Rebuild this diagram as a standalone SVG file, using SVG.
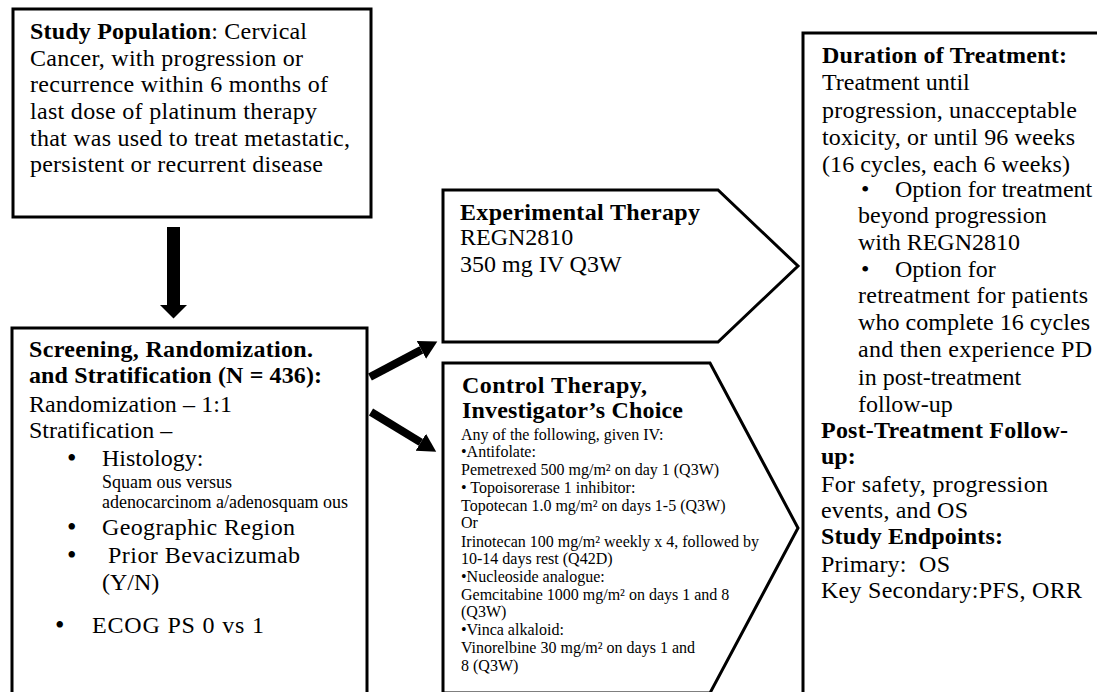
<svg xmlns="http://www.w3.org/2000/svg" width="1097" height="692" viewBox="0 0 1097 692">
<style>
.t{font-family:"Liberation Serif","Times New Roman",serif;font-size:24px;fill:#000}
.b{font-weight:bold}
.s{font-size:16px}
.m{font-size:18px}
.bul{font-size:27px}
.box{fill:#fff;stroke:#000;stroke-width:3;stroke-linejoin:miter}
.shaft{stroke:#000;fill:none}
</style>
<defs>
<marker id="headBig" markerUnits="userSpaceOnUse" markerWidth="14" markerHeight="28" refX="0" refY="13.5" orient="auto" viewBox="0 0 14 28">
<path d="M0,0 L13.5,13.5 L0,27 Z" fill="#000"/>
</marker>
<marker id="headDiag" markerUnits="userSpaceOnUse" markerWidth="19" markerHeight="22" refX="0" refY="10" orient="auto" viewBox="0 0 19 22">
<path d="M0,0 L18,10 L0,20 Z" fill="#000"/>
</marker>
</defs>
<rect width="1097" height="692" fill="#fff"/>

<g id="connectors">
<line class="shaft" x1="173.5" y1="227" x2="173.5" y2="305" stroke-width="13" marker-end="url(#headBig)"/>
<line class="shaft" x1="370" y1="377" x2="421.4" y2="349.9" stroke-width="8" marker-end="url(#headDiag)"/>
<line class="shaft" x1="371" y1="412" x2="420.8" y2="442.3" stroke-width="8" marker-end="url(#headDiag)"/>
</g>

<g id="study-population">
<rect class="box" x="13" y="9" width="358" height="208"/>
<text class="t" x="30" y="39" textLength="277"><tspan class="b">Study Population</tspan>: Cervical</text>
<text class="t" x="30" y="66" textLength="273">Cancer, with progression or</text>
<text class="t" x="30" y="92" textLength="298">recurrence within 6 months of</text>
<text class="t" x="30" y="119" textLength="287">last dose of platinum therapy</text>
<text class="t" x="30" y="146" textLength="320">that was used to treat metastatic,</text>
<text class="t" x="30" y="172" textLength="293">persistent or recurrent disease</text>
</g>

<g id="screening">
<rect class="box" x="12" y="328" width="355" height="400"/>
<text class="t b" x="29" y="357" textLength="284">Screening, Randomization.</text>
<text class="t b" x="29" y="383" textLength="293">and Stratification (N = 436):</text>
<text class="t" x="29" y="412" textLength="203">Randomization – 1:1</text>
<text class="t" x="29" y="438">Stratification –</text>
<text class="t bul" x="67" y="467">•</text>
<text class="t" x="102" y="466">Histology:</text>
<text class="t m" x="102" y="488" textLength="130">Squam ous versus</text>
<text class="t m" x="102" y="508" textLength="246">adenocarcinom a/adenosquam ous</text>
<text class="t bul" x="67" y="536">•</text>
<text class="t" x="102" y="535" textLength="193">Geographic Region</text>
<text class="t bul" x="67" y="564">•</text>
<text class="t" x="108" y="563" textLength="192">Prior Bevacizumab</text>
<text class="t" x="102" y="590">(Y/N)</text>
<text class="t bul" x="55" y="634">•</text>
<text class="t" x="92" y="633" textLength="172">ECOG PS 0 vs 1</text>
</g>

<g id="experimental">
<path class="box" d="M443,190 L718,190 L798,266 L718,342 L443,342 Z"/>
<text class="t b" x="460" y="220" textLength="240">Experimental Therapy</text>
<text class="t" x="460" y="245">REGN2810</text>
<text class="t" x="460" y="272">350 mg IV Q3W</text>
</g>

<g id="control">
<path class="box" d="M443,363 L710,363 L798,528 L710,693 L443,693 Z"/>
<text class="t b" x="462" y="393" textLength="185">Control Therapy,</text>
<text class="t b" x="462" y="418" textLength="221">Investigator’s Choice</text>
<text class="t s" x="461" y="440">Any of the following, given IV:</text>
<text class="t s" x="461" y="457">•Antifolate:</text>
<text class="t s" x="461" y="475">Pemetrexed 500 mg/m² on day 1 (Q3W)</text>
<text class="t s" x="461" y="493">• Topoisorerase 1 inhibitor:</text>
<text class="t s" x="461" y="511">Topotecan 1.0 mg/m² on days 1-5 (Q3W)</text>
<text class="t s" x="461" y="528">Or</text>
<text class="t s" x="461" y="547">Irinotecan 100 mg/m² weekly x 4, followed by</text>
<text class="t s" x="461" y="564">10-14 days rest (Q42D)</text>
<text class="t s" x="461" y="582">•Nucleoside analogue:</text>
<text class="t s" x="461" y="600">Gemcitabine 1000 mg/m² on days 1 and 8</text>
<text class="t s" x="461" y="617">(Q3W)</text>
<text class="t s" x="461" y="635">•Vinca alkaloid:</text>
<text class="t s" x="461" y="653">Vinorelbine 30 mg/m² on days 1 and</text>
<text class="t s" x="461" y="671">8 (Q3W)</text>
</g>

<g id="duration">
<rect class="box" x="803" y="33" width="310" height="680"/>
<text class="t b" x="822" y="63" textLength="245">Duration of Treatment:</text>
<text class="t" x="822" y="90">Treatment until</text>
<text class="t" x="822" y="118" textLength="255">progression, unacceptable</text>
<text class="t" x="822" y="145" textLength="253">toxicity, or until 96 weeks</text>
<text class="t" x="822" y="172" textLength="248">(16 cycles, each 6 weeks)</text>
<text class="t" x="861" y="197">•</text>
<text class="t" x="895" y="197">Option for treatment</text>
<text class="t" x="858" y="223">beyond progression</text>
<text class="t" x="858" y="250">with REGN2810</text>
<text class="t" x="861" y="277">•</text>
<text class="t" x="895" y="277">Option for</text>
<text class="t" x="858" y="303" textLength="230">retreatment for patients</text>
<text class="t" x="858" y="330" textLength="232">who complete 16 cycles</text>
<text class="t" x="858" y="357" textLength="234">and then experience PD</text>
<text class="t" x="858" y="385">in post-treatment</text>
<text class="t" x="858" y="412">follow-up</text>
<text class="t b" x="821" y="438" textLength="247">Post-Treatment Follow-</text>
<text class="t b" x="821" y="464">up:</text>
<text class="t" x="821" y="492" textLength="227">For safety, progression</text>
<text class="t" x="821" y="518" textLength="147">events, and OS</text>
<text class="t b" x="821" y="544" textLength="182">Study Endpoints:</text>
<text class="t" x="821" y="572" xml:space="preserve" textLength="129">Primary:  OS</text>
<text class="t" x="821" y="598" textLength="261">Key Secondary:PFS, ORR</text>
</g>
</svg>
